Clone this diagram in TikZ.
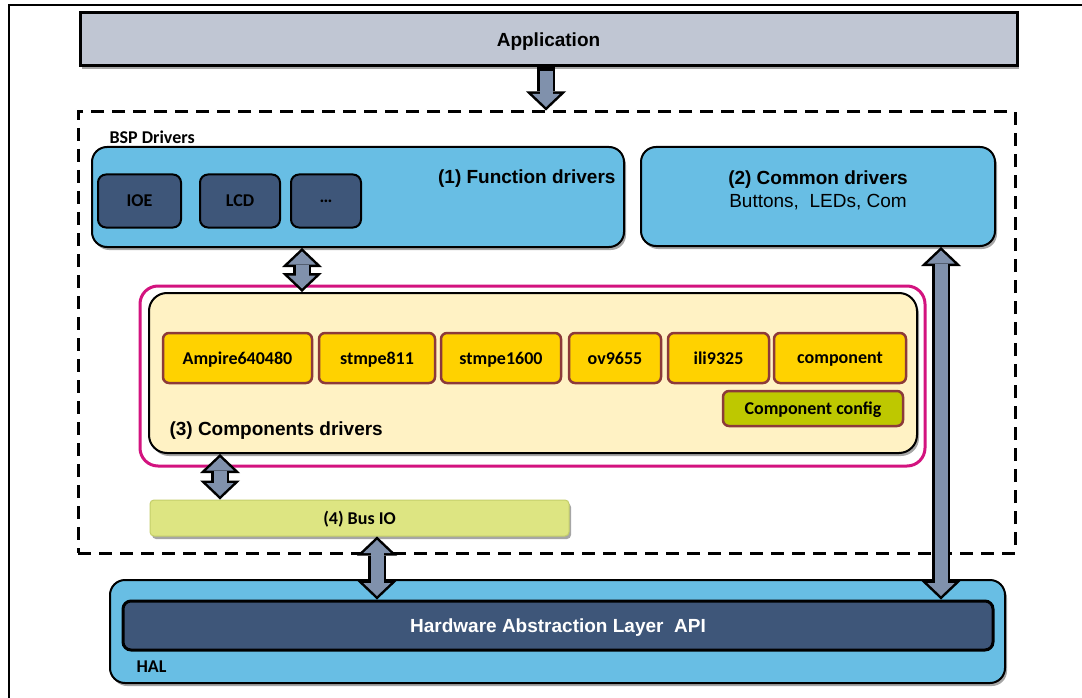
\documentclass[tikz,border=0pt]{standalone}
\usepackage{fontspec}
\setmainfont{Liberation Sans}
\newfontfamily\calibri{Carlito}
\usetikzlibrary{shapes,arrows.meta,shadows,positioning,backgrounds}

\definecolor{AppGray}{RGB}{192,198,211}
\definecolor{SkyBlue}{RGB}{104,190,228}
\definecolor{DarkSlate}{RGB}{62,86,121}
\definecolor{Slate}{RGB}{128,145,172}
\definecolor{Magenta}{RGB}{211,19,127}
\definecolor{LightYellow}{RGB}{255,242,196}
\definecolor{CompGold}{RGB}{255,210,0}
\definecolor{CompBrown}{RGB}{140,58,58}
\definecolor{ConfigGreen}{RGB}{190,200,0}
\definecolor{BusGreen}{RGB}{221,229,130}
\definecolor{BusBorder}{RGB}{196,206,106}

\begin{document}
\begin{tikzpicture}[x=1pt,y=-1pt]
	\tikzstyle{Box}		= [rectangle, draw=black, line width=2pt, inner sep=0pt]
	\tikzstyle{Shadow}	= [drop shadow={shadow xshift=2pt, shadow yshift=-3pt, opacity=0.35, fill=black}]
	\tikzstyle{Driver}	= [Box, fill=SkyBlue, rounded corners=15pt, Shadow]
	\tikzstyle{Dark}	= [Box, fill=DarkSlate, rounded corners=8pt]
	\tikzstyle{Head}	= [font=\bfseries\fontsize{19}{23}\selectfont, text depth=0pt]
	\tikzstyle{Small}	= [font=\calibri\bfseries\fontsize{18}{20}\selectfont, text depth=0pt]
	\tikzstyle{Comp}	= [rectangle, draw=CompBrown, line width=2.5pt, fill=CompGold, rounded corners=6pt, minimum height=50pt, inner sep=0pt, Small]
	\tikzstyle{FatOut}	= [line width=18pt, black, >={Triangle[length=19pt,width=40pt,line width=0pt]}]
	\tikzstyle{FatIn}	= [line width=13pt, Slate, shorten <=3.5pt, shorten >=3.5pt, >={Triangle[length=13pt,width=27.4pt,line width=0pt]}]

	\fill[white] (0,0) rectangle (1082,698);
	\useasboundingbox (0,0) rectangle (1082,698);
	\draw[line width=2.5pt] (9,698) -- (9,5) -- (1082,5);

	% layers
	\node[Box, line width=3pt, fill=AppGray, minimum width=937pt, minimum height=53pt, Head, Shadow] (app) at (548.5,39.5) {Application};
	\node[rectangle, draw, line width=3pt, dash pattern=on 13pt off 8pt, minimum width=937pt, minimum height=441pt] (bsp) at (546.5,332.5) {};
	\node[Small, anchor=west] at (106,137) {BSP Drivers};

	\node[Driver, minimum width=532pt, minimum height=100pt] (fd) at (358,197) {};
	\node[Head, anchor=east] at (619,177) {(1) Function drivers};
	\foreach \n/\x/\w/\t in {ioe/139.5/83/IOE, lcd/240/80/LCD, more/326/70/\ldots}
		\node[Dark, minimum width=\w pt, minimum height=53pt, Small] (\n) at (\x,201) {\t};

	\node[Driver, minimum width=354pt, minimum height=99pt] (cd) at (818,196.5) {};
	\node[Head, align=center] at (818,189) {(2) Common drivers\\\mdseries Buttons,\ \ LEDs, Com};

	\node[rectangle, draw=Magenta, line width=3pt, fill=white, rounded corners=18pt, minimum width=785pt, minimum height=180pt] (compframe) at (532.5,376) {};
	\node[Box, fill=LightYellow, rounded corners=18pt, minimum width=768pt, minimum height=160pt, Shadow] (yel) at (533,373) {};
	\foreach \n/\x/\w/\t in {c1/237.5/149/Ampire640480, c2/377/116/stmpe811, c3/501/120/stmpe1600, c4/615/92/ov9655, c5/718.5/101/ili9325, c6/840/132/component}
		\node[Comp, minimum width=\w pt] (\n) at (\x,358) {\t};
	\node[Comp, fill=ConfigGreen, minimum width=180pt, minimum height=35pt] (cfg) at (813,408.5) {Component config};
	\node[Head, anchor=west] at (166,429) {(3) Components drivers};

	\node[Box, draw=BusBorder, line width=1pt, fill=BusGreen, rounded corners=4pt, minimum width=419pt, minimum height=36pt, Small, Shadow] (bus) at (359.5,518) {(4) Bus IO};

	\node[Driver, minimum width=895pt, minimum height=103pt] (hal) at (557.5,631.5) {};
	\node[Dark, line width=3pt, minimum width=870pt, minimum height=49pt, Head, text=white] (api) at (558,625.5) {Hardware Abstraction Layer\ \ API};
	\node[Small, anchor=west] at (133,667) {HAL};

	% fat arrows
	\draw[FatOut, ->] (app.south -| 546,0) -- (bsp.north -| 546,0);
	\draw[FatIn, ->] (app.south -| 546,0) -- (bsp.north -| 546,0);
	\foreach \a/\b/\x in {fd/yel/302, yel/bus/220, bus/api/377, cd/api/941}{
		\draw[FatOut, <->] (\a.south -| \x,0) -- (\b.north -| \x,0);
		\draw[FatIn, <->] (\a.south -| \x,0) -- (\b.north -| \x,0);
	}
\end{tikzpicture}
\end{document}
